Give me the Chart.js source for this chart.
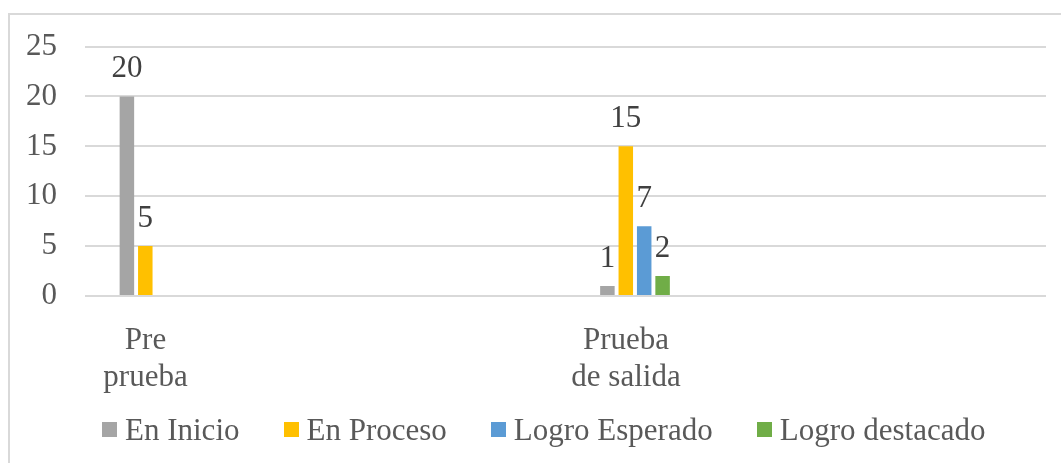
<!DOCTYPE html>
<html>
<head>
<meta charset="utf-8">
<script src="https://cdn.jsdelivr.net/npm/chart.js@4/dist/chart.umd.min.js"></script>
<style>
  html, body { margin: 0; padding: 0; background: #ffffff; overflow: hidden; }
  #frame {
    position: absolute; left: 8px; top: 13px; width: 1100px; height: 500px;
    border-left: 2px solid #d9d9d9; border-top: 2px solid #d9d9d9;
  }
  #chart { position: absolute; left: 0; top: 0; }
  #legend {
    position: absolute; left: 102px; top: 414px;
    display: flex; align-items: center; column-gap: 44px;
    font-family: 'Liberation Serif';
    font-size: 31px; line-height: 31px; color: #595959; white-space: nowrap;
  }
  #legend .item { display: flex; align-items: center; }
  #legend .box { width: 15px; height: 15px; margin-right: 8px; }
</style>
</head>
<body>
<div id="frame"></div>
<canvas id="chart" width="1061" height="463"></canvas>
<div id="legend"></div>
<script>
const categories = [["Pre", "prueba"], ["Prueba", "de salida"]];
const seriesNames = ["En Inicio", "En Proceso", "Logro Esperado", "Logro destacado"];
const enInicio = [20, 1];
const enProceso = [5, 15];
const logroEsperado = [null, 7];
const logroDestacado = [null, 2];
const yTicks = [0, 5, 10, 15, 20, 25];

const COLORS = ["#a5a5a5", "#ffc000", "#5b9bd5", "#70ad47"];
const FONT = "'Liberation Serif'";

// each category sits at an integer on the x scale
const toPoints = (vals) => vals.map((v, i) => ({ x: i, y: v }));

// value labels above each bar, Excel style
const barLabels = {
  id: "barLabels",
  afterDatasetsDraw(chart) {
    const { ctx } = chart;
    ctx.save();
    ctx.font = "31px " + FONT;
    ctx.fillStyle = "#404040";
    ctx.textAlign = "center";
    ctx.textBaseline = "alphabetic";
    chart.data.datasets.forEach((ds, di) => {
      chart.getDatasetMeta(di).data.forEach((bar, i) => {
        const v = ds.data[i].y;
        if (v == null) return;
        ctx.fillText(String(v), bar.x, bar.y - 19);
      });
    });
    ctx.restore();
  },
};

function buildLegend() {
  const el = document.getElementById("legend");
  seriesNames.forEach((name, i) => {
    const item = document.createElement("div");
    item.className = "item";
    const box = document.createElement("span");
    box.className = "box";
    box.style.background = COLORS[i];
    item.appendChild(box);
    item.appendChild(document.createTextNode(name));
    el.appendChild(item);
  });
}

function draw() {
  new Chart(document.getElementById("chart"), {
    type: "bar",
    data: {
      datasets: [enInicio, enProceso, logroEsperado, logroDestacado].map((vals, i) => ({
        label: seriesNames[i],
        data: toPoints(vals),
        backgroundColor: COLORS[i],
        borderWidth: 0,
        categoryPercentage: 0.1532,
        barPercentage: 0.788,
      })),
    },
    options: {
      responsive: false,
      animation: false,
      layout: { padding: { top: 45, right: 15, bottom: 67, left: 0 } },
      plugins: {
        tooltip: { enabled: false },
        legend: { display: false },
      },
      scales: {
        x: {
          type: "linear",
          min: -0.14464,
          max: 1.85536,
          offset: false,
          grid: { display: false, offset: false },
          border: { display: false },
          afterBuildTicks: (scale) => { scale.ticks = categories.map((c, i) => ({ value: i })); },
          afterFit: (scale) => { scale.height = 100; },
          ticks: {
            color: "#595959",
            font: { family: FONT, size: 31 },
            padding: 18,
            labelOffset: -9,
            maxRotation: 0,
            autoSkip: false,
            callback: (v) => categories[Math.round(v)],
          },
        },
        y: {
          min: 0,
          max: 25,
          afterBuildTicks: (scale) => { scale.ticks = yTicks.map((v) => ({ value: v })); },
          afterFit: (scale) => { scale.width = 85; },
          grid: { color: "#d9d9d9", lineWidth: 2, drawTicks: false },
          border: { display: false },
          ticks: {
            color: "#595959",
            font: { family: FONT, size: 31 },
            padding: 28,
          },
        },
      },
    },
    plugins: [barLabels],
  });
}

buildLegend();
document.fonts.load("31px 'Liberation Serif'").then(draw, draw);
</script>
</body>
</html>
